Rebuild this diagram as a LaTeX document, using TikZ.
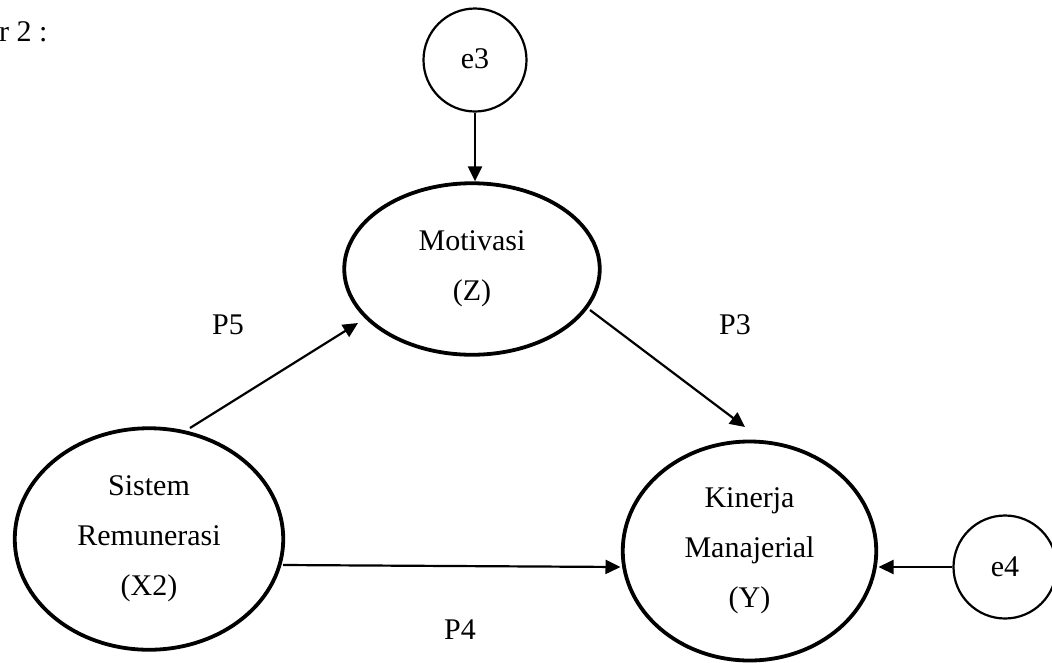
\documentclass[tikz,border=0pt]{standalone}
\usepackage{fontspec}
\setmainfont{Liberation Serif}
\usetikzlibrary{shapes.geometric,arrows.meta,calc}
\begin{document}
\begin{tikzpicture}[x=1pt,y=-1pt,
  lat/.style={draw,ellipse,line width=3.8pt,inner sep=0pt,align=center,
              font=\fontsize{30}{50}\selectfont},
  err/.style={draw,circle,line width=2.2pt,inner sep=0pt,minimum size=103pt,
              font=\fontsize{30}{34}\selectfont},
  arr/.style={line width=2.2pt,-{Triangle[length=15pt,width=14pt]}},
  lbl/.style={inner sep=0pt,anchor=base west,font=\fontsize{30}{34}\selectfont}]
\useasboundingbox (0,0) rectangle (1052,662);
% latent variables
\node[lat,minimum width=255.5pt,minimum height=171.5pt] (mot) at (472,269) {Motivasi\\(Z)};
\node[lat,minimum width=268.5pt,minimum height=221.5pt] (sis) at (149,539) {Sistem\\Remunerasi\\(X2)};
\node[lat,minimum width=253.5pt,minimum height=219pt] (kin) at (749.5,551) {Kinerja\\Manajerial\\(Y)};
% error terms
\node[err] (e3) at (475,60) {\raisebox{3pt}{e3}};
\node[err] (e4) at (1005,567) {e4};
% caption fragment
\node[lbl] (cap) at (-1,41) {r 2 :};
% path labels
\node[lbl] (p5) at (212,334) {P5};
\node[lbl] (p3) at (719,334) {P3};
\node[lbl] (p4) at (444,639) {P4};
% connectors
\draw[arr] (e3.south) -- (e3.south |- mot.north);
\draw[arr] ($(sis.center)+(41,-111)$) -- ($(mot.center)+(-114,54)$);
\draw[arr] ($(mot.center)+(118,41)$) -- ($(kin.center)+(-4.5,-124)$);
\draw[arr] ($(sis.center)+(134,26)$) -- ($(kin.center)+(-129,16)$);
\draw[arr] (e4.west) -- ($(kin.center)+(129,16)$);
\end{tikzpicture}
\end{document}
